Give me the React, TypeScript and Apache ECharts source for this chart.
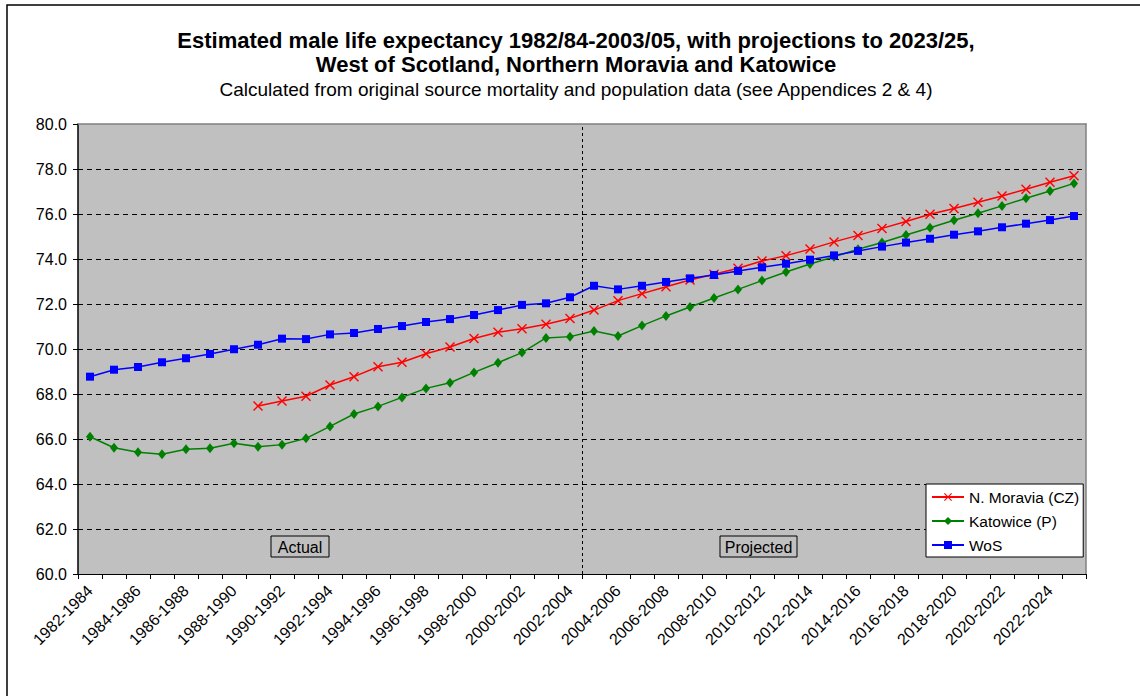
import React, { useEffect, useRef } from "react";
import * as echarts from "echarts";

const FONT = '"Liberation Sans", Arial, Helvetica, sans-serif';

const categories = [
  "1982-1984", "1983-1985", "1984-1986", "1985-1987", "1986-1988", "1987-1989",
  "1988-1990", "1989-1991", "1990-1992", "1991-1993", "1992-1994", "1993-1995",
  "1994-1996", "1995-1997", "1996-1998", "1997-1999", "1998-2000", "1999-2001",
  "2000-2002", "2001-2003", "2002-2004", "2003-2005", "2004-2006", "2005-2007",
  "2006-2008", "2007-2009", "2008-2010", "2009-2011", "2010-2012", "2011-2013",
  "2012-2014", "2013-2015", "2014-2016", "2015-2017", "2016-2018", "2017-2019",
  "2018-2020", "2019-2021", "2020-2022", "2021-2023", "2022-2024", "2023-2025",
];

const moravia = [
  null, null, null, null, null, null, null, 67.47, 67.69, 67.9, 68.4, 68.77,
  69.21, 69.41, 69.79, 70.09, 70.47, 70.74, 70.9, 71.1, 71.36, 71.73, 72.15, 72.46,
  72.77, 73.07, 73.32, 73.59, 73.91, 74.15, 74.44, 74.76, 75.05, 75.36, 75.67, 75.99,
  76.24, 76.52, 76.8, 77.1, 77.41, 77.7,
];

const katowice = [
  66.1, 65.61, 65.41, 65.32, 65.54, 65.59, 65.81, 65.66, 65.75, 66.03, 66.56, 67.11,
  67.45, 67.85, 68.25, 68.5, 68.96, 69.39, 69.84, 70.49, 70.55, 70.8, 70.58, 71.04,
  71.47, 71.87, 72.27, 72.65, 73.04, 73.42, 73.78, 74.1, 74.43, 74.73, 75.07, 75.39,
  75.72, 76.03, 76.36, 76.7, 77.02, 77.36,
];

const wos = [
  68.77, 69.08, 69.2, 69.41, 69.59, 69.78, 69.99, 70.19, 70.46, 70.44, 70.65, 70.71,
  70.89, 71.02, 71.2, 71.33, 71.51, 71.73, 71.96, 72.03, 72.3, 72.81, 72.65, 72.81,
  72.98, 73.14, 73.29, 73.47, 73.63, 73.79, 73.97, 74.16, 74.36, 74.55, 74.73, 74.9,
  75.08, 75.23, 75.41, 75.57, 75.73, 75.91,
];

const seriesNames = ["N. Moravia (CZ)", "Katowice (P)", "WoS"];
const yRange = { min: 60, max: 80, interval: 2 };
const dividerAt = [21]; // boundary between 2002-2004 and 2003-2005
const titleLines = [
  "Estimated male life expectancy 1982/84-2003/05, with projections to 2023/25,",
  "West of Scotland, Northern Moravia and Katowice",
];
const subtitle =
  "Calculated from original source mortality and population data (see Appendices 2 & 4)";
const periodLabels = ["Actual", "Projected"];

const X_SYMBOL =
  "path://M0,1L1,0L5,4L9,0L10,1L6,5L10,9L9,10L5,6L1,10L0,9L4,5Z";

export default function App() {
  const ref = useRef<HTMLDivElement>(null);

  useEffect(() => {
    if (!ref.current) return;
    const chart = echarts.init(ref.current, null, { renderer: "svg" });

    const option: any = {
      animation: false,
      backgroundColor: "#ffffff",
      textStyle: { fontFamily: FONT, color: "#000" },
      grid: {
        left: 78,
        top: 124,
        width: 1008,
        height: 450,
        show: true,
        backgroundColor: "#C0C0C0",
        borderWidth: 0,
      },
      legend: {
        orient: "vertical",
        left: 926,
        top: 484,
        backgroundColor: "#ffffff",
        borderColor: "#000",
        borderWidth: 1,
        padding: [5, 4, 4, 5],
        itemWidth: 32,
        itemHeight: 10,
        itemGap: 8,
        textStyle: { fontSize: 15.5, fontFamily: FONT, color: "#000" },
        data: seriesNames,
      },
      xAxis: [
        {
          type: "category",
          data: categories,
          boundaryGap: true,
          axisLine: { show: true, onZero: false, lineStyle: { color: "#000", width: 1 } },
          axisTick: { show: true, interval: 0, length: 5, lineStyle: { color: "#000" } },
          axisLabel: {
            interval: 1,
            rotate: 45,
            fontSize: 16,
            fontFamily: FONT,
            color: "#000",
            margin: 14,
          },
          splitLine: { show: false },
        },
        {
          type: "value",
          min: 0,
          max: categories.length,
          position: "top",
          axisLine: { show: true, onZero: false, lineStyle: { color: "#808080", width: 1.5 } },
          axisTick: { show: false },
          axisLabel: { show: false },
          splitLine: { show: false },
        },
      ],
      yAxis: [
        {
          type: "value",
          min: yRange.min,
          max: yRange.max,
          interval: yRange.interval,
          axisLine: { show: true, onZero: false, lineStyle: { color: "#000", width: 1.5 } },
          axisTick: { show: true, length: 5, lineStyle: { color: "#000" } },
          axisLabel: {
            formatter: (v: number) => v.toFixed(1),
            fontSize: 16,
            fontFamily: FONT,
            color: "#000",
            margin: 11,
          },
          splitLine: {
            show: true,
            showMinLine: false,
            showMaxLine: false,
            lineStyle: { color: "#000", type: [5, 4], width: 1 },
          },
        },
        {
          type: "value",
          min: yRange.min,
          max: yRange.max,
          position: "right",
          axisLine: { show: true, onZero: false, lineStyle: { color: "#808080", width: 1.5 } },
          axisTick: { show: false },
          axisLabel: { show: false },
          splitLine: { show: false },
        },
      ],
      series: [
        {
          name: "divider",
          type: "line",
          xAxisIndex: 1,
          yAxisIndex: 0,
          data: [],
          silent: true,
          markLine: {
            silent: true,
            symbol: ["none", "none"],
            label: { show: false },
            lineStyle: { color: "#000", type: [3, 3], width: 1 },
            data: dividerAt.map((v) => ({ xAxis: v })),
          },
        },
        {
          name: seriesNames[0],
          type: "line",
          data: moravia,
          connectNulls: false,
          symbol: X_SYMBOL,
          symbolSize: 10,
          itemStyle: { color: "#FF0000" },
          lineStyle: { color: "#FF0000", width: 1.5 },
          z: 3,
        },
        {
          name: seriesNames[1],
          type: "line",
          data: katowice,
          symbol: "diamond",
          symbolSize: [8, 10],
          itemStyle: { color: "#008000" },
          lineStyle: { color: "#008000", width: 1.5 },
          z: 2,
        },
        {
          name: seriesNames[2],
          type: "line",
          data: wos,
          symbol: "rect",
          symbolSize: 8,
          itemStyle: { color: "#0000FF" },
          lineStyle: { color: "#0000FF", width: 1.5 },
          z: 4,
        },
      ],
      graphic: [
        {
          type: "rect",
          shape: { x: 7, y: 5, width: 1200, height: 800 },
          style: { fill: "none", stroke: "#000", lineWidth: 1.5 },
          silent: true,
          z: -10,
        },
        {
          type: "text",
          x: 576,
          y: 40,
          style: {
            text: titleLines[0],
            font: `bold 22px ${FONT}`,
            fill: "#000",
            textAlign: "center",
            textVerticalAlign: "middle",
          },
        },
        {
          type: "text",
          x: 576,
          y: 64,
          style: {
            text: titleLines[1],
            font: `bold 22px ${FONT}`,
            fill: "#000",
            textAlign: "center",
            textVerticalAlign: "middle",
          },
        },
        {
          type: "text",
          x: 576,
          y: 89,
          style: {
            text: subtitle,
            font: `19px ${FONT}`,
            fill: "#000",
            textAlign: "center",
            textVerticalAlign: "middle",
          },
        },
        {
          type: "group",
          x: 271,
          y: 536,
          z: 10,
          children: [
            {
              type: "rect",
              shape: { x: 0, y: 0, width: 58, height: 21 },
              style: { fill: "#C0C0C0", stroke: "#000", lineWidth: 1 },
            },
            {
              type: "text",
              x: 29,
              y: 11,
              style: {
                text: periodLabels[0],
                font: `16px ${FONT}`,
                fill: "#000",
                textAlign: "center",
                textVerticalAlign: "middle",
              },
            },
          ],
        },
        {
          type: "group",
          x: 720,
          y: 536,
          z: 10,
          children: [
            {
              type: "rect",
              shape: { x: 0, y: 0, width: 77, height: 21 },
              style: { fill: "#C0C0C0", stroke: "#000", lineWidth: 1 },
            },
            {
              type: "text",
              x: 38.5,
              y: 11,
              style: {
                text: periodLabels[1],
                font: `16px ${FONT}`,
                fill: "#000",
                textAlign: "center",
                textVerticalAlign: "middle",
              },
            },
          ],
        },
      ],
    };

    chart.setOption(option);
    return () => chart.dispose();
  }, []);

  return (
    <div
      ref={ref}
      style={{
        position: "absolute",
        left: 0,
        top: 0,
        width: 1140,
        height: 696,
        background: "#fff",
      }}
    />
  );
}
